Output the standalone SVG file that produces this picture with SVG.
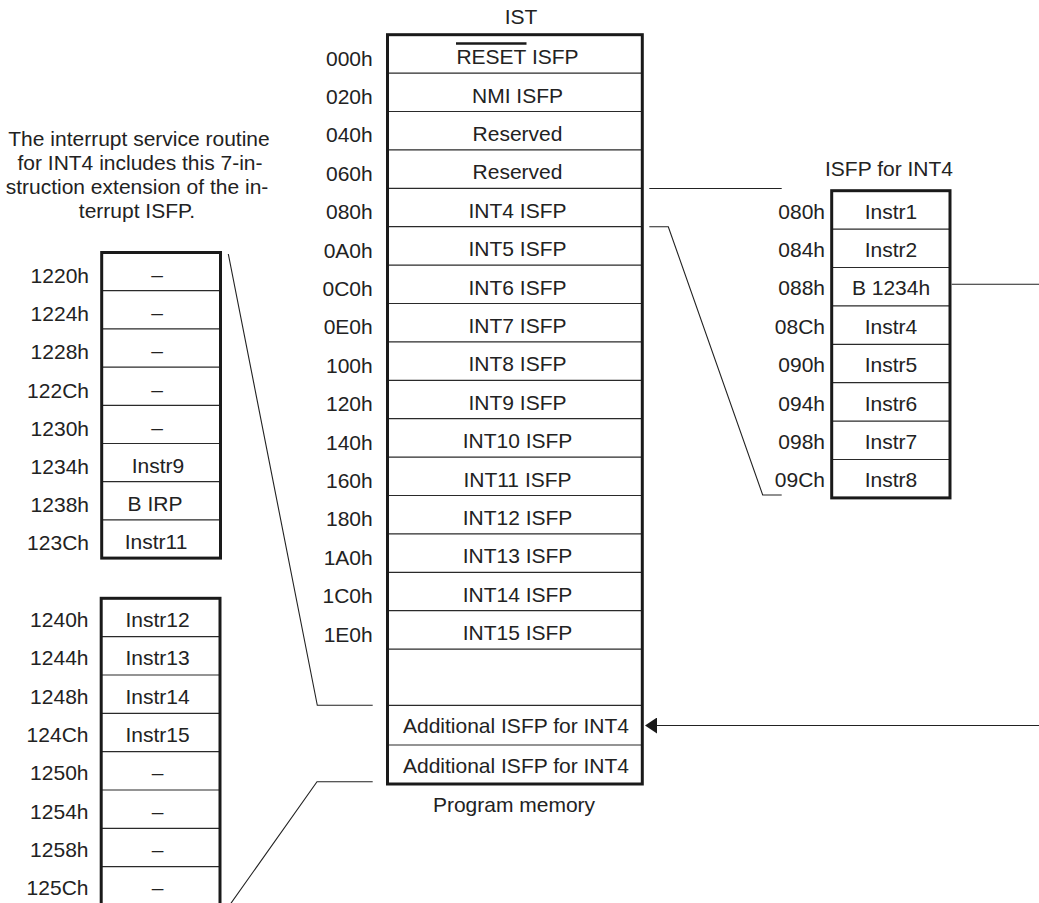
<svg xmlns="http://www.w3.org/2000/svg" width="1039" height="903" viewBox="0 0 1039 903">
<defs>
<style>
text{font-family:"Liberation Sans",Arial,Helvetica,sans-serif;font-size:21px;fill:#222}
.c{text-anchor:middle}
.r{text-anchor:end}
.box{fill:none;stroke:#1a1a1a;stroke-width:3}
.row{stroke:#2a2a2a;stroke-width:1.2;fill:none}
.conn{stroke:#222;stroke-width:1.1;fill:none}
</style>
<marker id="arr" viewBox="0 0 12 16" refX="0" refY="8" markerWidth="12" markerHeight="16" markerUnits="userSpaceOnUse" orient="auto">
<path d="M0,0 L12,8 L0,16 Z" fill="#1a1a1a"/>
</marker>
</defs>
<rect width="1039" height="903" fill="#fff"/>

<g id="note">
<text class="c" x="139" y="146">The interrupt service routine</text>
<text class="c" x="140" y="170">for INT4 includes this 7-in-</text>
<text class="c" x="137" y="194">struction extension of the in-</text>
<text class="c" x="137" y="218">terrupt ISFP.</text>
</g>

<g id="ist">
<text class="c" x="521" y="24">IST</text>
<g class="row">
<line x1="387.5" y1="73.1" x2="642.3" y2="73.1"/>
<line x1="387.5" y1="111.5" x2="642.3" y2="111.5"/>
<line x1="387.5" y1="149.9" x2="642.3" y2="149.9"/>
<line x1="387.5" y1="188.3" x2="642.3" y2="188.3"/>
<line x1="387.5" y1="226.7" x2="642.3" y2="226.7"/>
<line x1="387.5" y1="265.1" x2="642.3" y2="265.1"/>
<line x1="387.5" y1="303.5" x2="642.3" y2="303.5"/>
<line x1="387.5" y1="341.9" x2="642.3" y2="341.9"/>
<line x1="387.5" y1="380.3" x2="642.3" y2="380.3"/>
<line x1="387.5" y1="418.7" x2="642.3" y2="418.7"/>
<line x1="387.5" y1="457.1" x2="642.3" y2="457.1"/>
<line x1="387.5" y1="495.5" x2="642.3" y2="495.5"/>
<line x1="387.5" y1="533.9" x2="642.3" y2="533.9"/>
<line x1="387.5" y1="572.3" x2="642.3" y2="572.3"/>
<line x1="387.5" y1="610.7" x2="642.3" y2="610.7"/>
<line x1="387.5" y1="649.1" x2="642.3" y2="649.1"/>
<line x1="387.5" y1="705.3" x2="642.3" y2="705.3"/>
<line x1="387.5" y1="745" x2="642.3" y2="745"/>
</g>
<rect class="box" x="387.5" y="34.7" width="254.8" height="749.3"/>
<g class="r">
<text x="372.7" y="65.5">000h</text>
<text x="372.7" y="104">020h</text>
<text x="372.7" y="142.4">040h</text>
<text x="372.7" y="180.8">060h</text>
<text x="372.7" y="219.2">080h</text>
<text x="372.7" y="257.6">0A0h</text>
<text x="372.7" y="296">0C0h</text>
<text x="372.7" y="334.4">0E0h</text>
<text x="372.7" y="372.8">100h</text>
<text x="372.7" y="411.2">120h</text>
<text x="372.7" y="449.6">140h</text>
<text x="372.7" y="488">160h</text>
<text x="372.7" y="526.4">180h</text>
<text x="372.7" y="564.8">1A0h</text>
<text x="372.7" y="603.2">1C0h</text>
<text x="372.7" y="641.6">1E0h</text>
</g>
<g class="c">
<text x="517.5" y="64.2">RESET ISFP</text>
<text x="517.5" y="102.6">NMI ISFP</text>
<text x="517.5" y="141">Reserved</text>
<text x="517.5" y="179.4">Reserved</text>
<text x="517.5" y="217.8">INT4 ISFP</text>
<text x="517.5" y="256.2">INT5 ISFP</text>
<text x="517.5" y="294.6">INT6 ISFP</text>
<text x="517.5" y="333">INT7 ISFP</text>
<text x="517.5" y="371.4">INT8 ISFP</text>
<text x="517.5" y="409.8">INT9 ISFP</text>
<text x="517.5" y="448.2">INT10 ISFP</text>
<text x="517.5" y="486.6">INT11 ISFP</text>
<text x="517.5" y="525">INT12 ISFP</text>
<text x="517.5" y="563.4">INT13 ISFP</text>
<text x="517.5" y="601.8">INT14 ISFP</text>
<text x="517.5" y="640.2">INT15 ISFP</text>
<text x="516" y="733">Additional ISFP for INT4</text>
<text x="516" y="773">Additional ISFP for INT4</text>
</g>
<line x1="456" y1="43.5" x2="526.5" y2="43.5" stroke="#1a1a1a" stroke-width="2.4"/>
<text class="c" x="514" y="812">Program memory</text>
</g>

<g id="isfp-int4">
<text class="c" x="889" y="176">ISFP for INT4</text>
<g class="row">
<line x1="831.7" y1="229.1" x2="950" y2="229.1"/>
<line x1="831.7" y1="267.5" x2="950" y2="267.5"/>
<line x1="831.7" y1="305.9" x2="950" y2="305.9"/>
<line x1="831.7" y1="344.3" x2="950" y2="344.3"/>
<line x1="831.7" y1="382.7" x2="950" y2="382.7"/>
<line x1="831.7" y1="421.1" x2="950" y2="421.1"/>
<line x1="831.7" y1="459.5" x2="950" y2="459.5"/>
</g>
<rect class="box" x="831.7" y="190.7" width="118.3" height="307.2"/>
<g class="r">
<text x="825" y="218.5">080h</text>
<text x="825" y="256.9">084h</text>
<text x="825" y="295.3">088h</text>
<text x="825" y="333.7">08Ch</text>
<text x="825" y="372.1">090h</text>
<text x="825" y="410.5">094h</text>
<text x="825" y="448.9">098h</text>
<text x="825" y="487.3">09Ch</text>
</g>
<g class="c">
<text x="891" y="218.5">Instr1</text>
<text x="891" y="256.9">Instr2</text>
<text x="891" y="295.3">B 1234h</text>
<text x="891" y="333.7">Instr4</text>
<text x="891" y="372.1">Instr5</text>
<text x="891" y="410.5">Instr6</text>
<text x="891" y="448.9">Instr7</text>
<text x="891" y="487.3">Instr8</text>
</g>
</g>

<g id="ext-1220">
<g class="row">
<line x1="101.7" y1="290.7" x2="220.5" y2="290.7"/>
<line x1="101.7" y1="328.9" x2="220.5" y2="328.9"/>
<line x1="101.7" y1="367.1" x2="220.5" y2="367.1"/>
<line x1="101.7" y1="405.3" x2="220.5" y2="405.3"/>
<line x1="101.7" y1="443.5" x2="220.5" y2="443.5"/>
<line x1="101.7" y1="481.7" x2="220.5" y2="481.7"/>
<line x1="101.7" y1="519.9" x2="220.5" y2="519.9"/>
</g>
<rect class="box" x="101.7" y="252.5" width="118.8" height="305.6"/>
<g class="r">
<text x="89" y="283">1220h</text>
<text x="89" y="321.2">1224h</text>
<text x="89" y="359.4">1228h</text>
<text x="89" y="397.6">122Ch</text>
<text x="89" y="435.8">1230h</text>
<text x="89" y="474">1234h</text>
<text x="89" y="512.2">1238h</text>
<text x="89" y="550.4">123Ch</text>
</g>
<g class="c">
<text x="157" y="282">–</text>
<text x="157" y="320.2">–</text>
<text x="157" y="358.4">–</text>
<text x="157" y="396.6">–</text>
<text x="157" y="434.8">–</text>
<text x="158" y="473">Instr9</text>
<text x="155" y="511.2">B IRP</text>
<text x="156" y="549.4">Instr11</text>
</g>
</g>

<g id="ext-1240">
<g class="row">
<line x1="101.2" y1="636.6" x2="220" y2="636.6"/>
<line x1="101.2" y1="675" x2="220" y2="675"/>
<line x1="101.2" y1="713.3" x2="220" y2="713.3"/>
<line x1="101.2" y1="751.7" x2="220" y2="751.7"/>
<line x1="101.2" y1="790" x2="220" y2="790"/>
<line x1="101.2" y1="828.3" x2="220" y2="828.3"/>
<line x1="101.2" y1="866.7" x2="220" y2="866.7"/>
</g>
<rect class="box" x="101.2" y="598.3" width="118.8" height="308"/>
<g class="r">
<text x="88.5" y="627">1240h</text>
<text x="88.5" y="665.4">1244h</text>
<text x="88.5" y="703.7">1248h</text>
<text x="88.5" y="742">124Ch</text>
<text x="88.5" y="780.4">1250h</text>
<text x="88.5" y="818.7">1254h</text>
<text x="88.5" y="857">1258h</text>
<text x="88.5" y="895.4">125Ch</text>
</g>
<g class="c">
<text x="157.5" y="627">Instr12</text>
<text x="157.5" y="665.4">Instr13</text>
<text x="157.5" y="703.7">Instr14</text>
<text x="157.5" y="742">Instr15</text>
<text x="157.5" y="780.4">–</text>
<text x="157.5" y="818.7">–</text>
<text x="157.5" y="857">–</text>
<text x="157.5" y="895.4">–</text>
</g>
</g>

<g id="connectors" class="conn">
<path d="M649.3,188.5 H781.7"/>
<path d="M649.3,226.7 H668.3 L762.7,495 H781.7"/>
<path d="M951.7,284.3 H1046 V725.5 H657" marker-end="url(#arr)"/>
<path d="M228.3,254 L317.3,705.3 H372.7"/>
<path d="M372.7,781.7 H317 L229,906"/>
</g>
</svg>
